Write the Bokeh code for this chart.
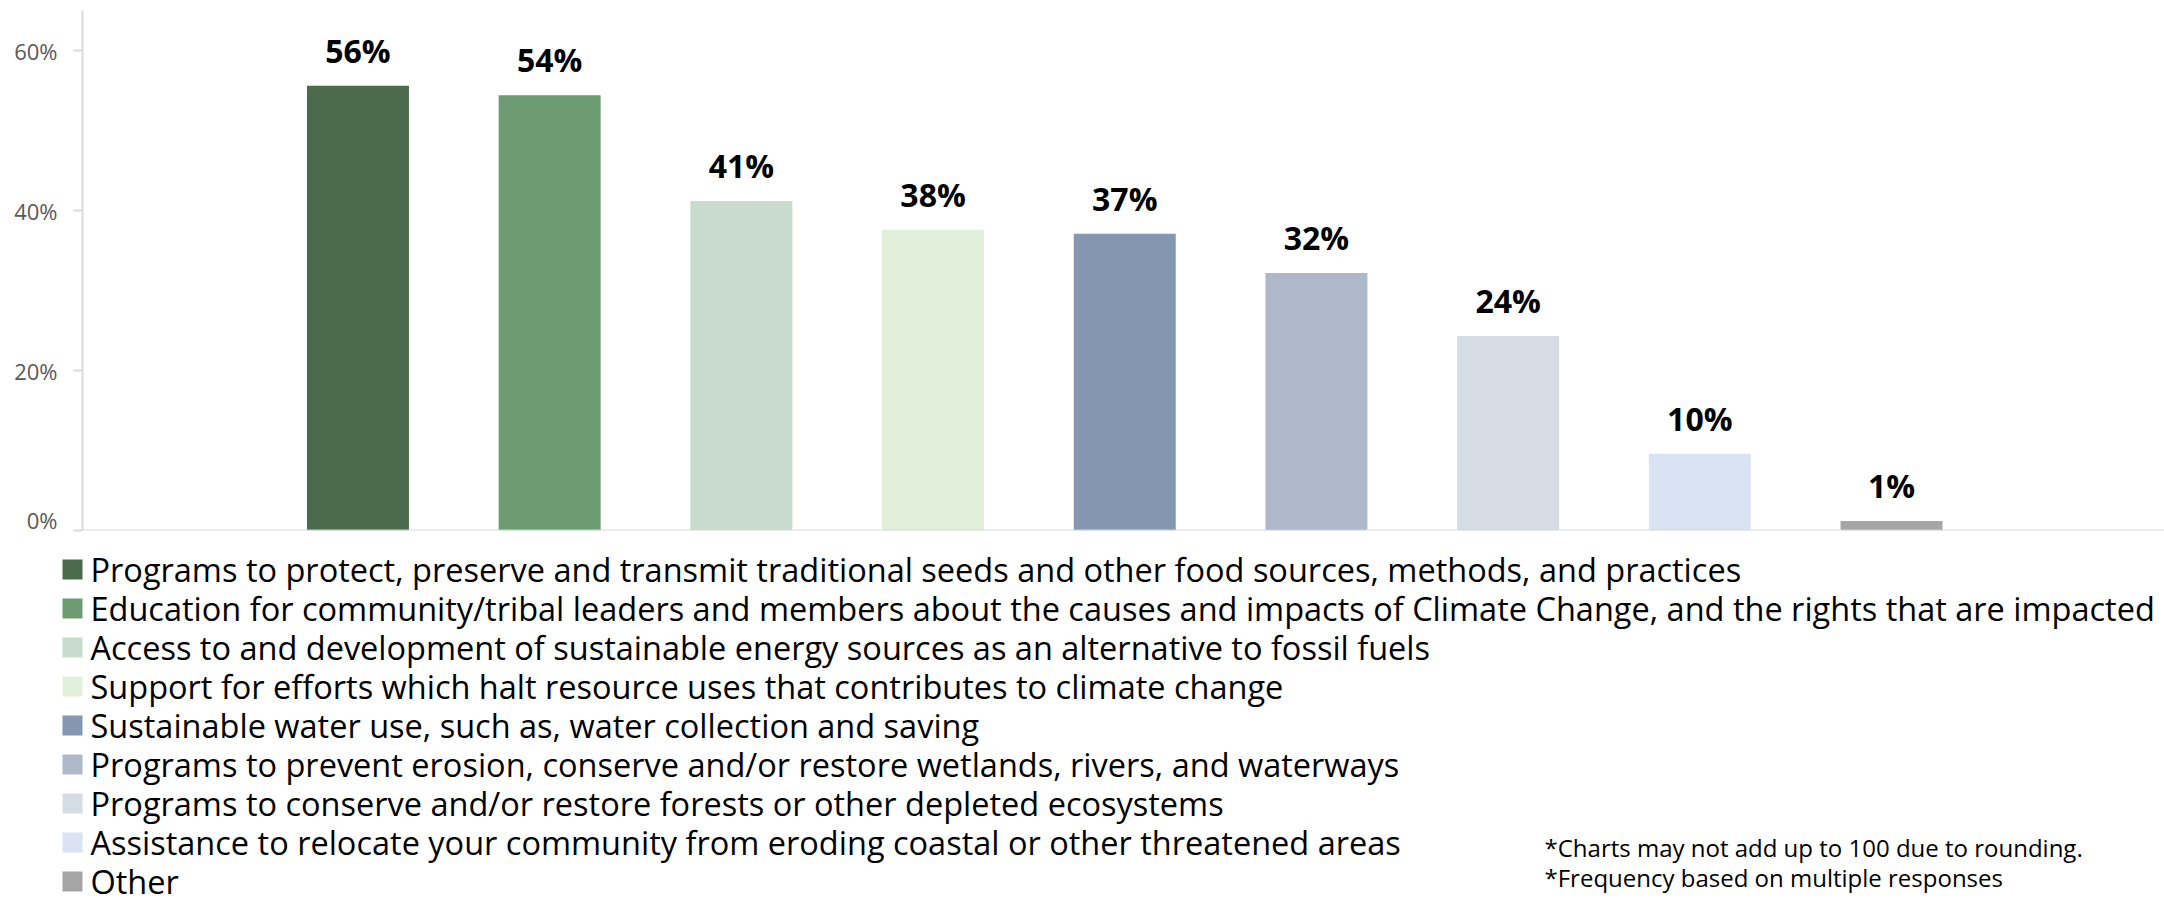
import numpy as np
from bokeh.plotting import figure
from bokeh.layouts import column
from bokeh.models import (ColumnDataSource, Range1d, Span, LabelSet,
                          NumeralTickFormatter, FixedTicker)
from bokeh.core.properties import value
from bokeh.embed import file_html
from bokeh.resources import INLINE

categories = [
    "Programs to protect, preserve and transmit traditional seeds and other food sources, methods, and practices",
    "Education for community/tribal leaders and members about the causes and impacts of Climate Change, and the rights that are impacted",
    "Access to and development of sustainable energy sources as an alternative to fossil fuels",
    "Support for efforts which halt resource uses that contributes to climate change",
    "Sustainable water use, such as, water collection and saving",
    "Programs to prevent erosion, conserve and/or restore wetlands, rivers, and waterways",
    "Programs to conserve and/or restore forests or other depleted ecosystems",
    "Assistance to relocate your community from eroding coastal or other threatened areas",
    "Other",
]
values = [0.556, 0.544, 0.412, 0.376, 0.371, 0.322, 0.243, 0.096, 0.012]
colors = ["#4A6A4B", "#6E9C72", "#C8DBCC", "#E2EFDA", "#8497B0",
          "#ADB9CA", "#D6DCE4", "#DAE3F3", "#A5A5A5"]
y_ticks = [0.0, 0.2, 0.4, 0.6]
notes = ["*Charts may not add up to 100 due to rounding.",
         "*Frequency based on multiple responses"]

FONT = "Open Sans"
W = 2164
H_TOP = 534
H_BOT = 904 - H_TOP

n = len(values)
src = ColumnDataSource(dict(
    x=np.arange(1, n + 1),
    top=values,
    color=colors,
    label=[f"{v * 100:.0f}%" for v in values],
))

# ---------------- chart ----------------
p = figure(width=W, height=H_TOP, output_backend="svg", toolbar_location=None,
           x_range=Range1d(-0.437, 10.424), y_range=Range1d(0, 0.65),
           x_axis_location=None, min_border_left=82, min_border_right=0,
           min_border_top=10, min_border_bottom=4)
p.frame_align = False
p.outline_line_color = None
p.grid.visible = False

r = p.vbar(x="x", top="top", bottom=0, width=0.532, fill_color="color",
           line_color=None, source=src)

p.add_layout(Span(location=0, dimension="width", line_color="#D9D9D9", line_width=2))

ya = p.yaxis[0]
ya.ticker = FixedTicker(ticks=y_ticks)
ya.formatter = NumeralTickFormatter(format="0%")
ya.axis_line_color = "#D9D9D9"
ya.axis_line_width = 2
ya.major_tick_line_color = "#D9D9D9"
ya.major_tick_line_width = 2
ya.major_tick_out = 9
ya.major_tick_in = 0
ya.minor_tick_line_color = None
ya.major_label_text_font = FONT
ya.major_label_text_font_size = "22px"
ya.major_label_text_color = "#595959"
ya.major_label_standoff = 16

labels = LabelSet(x="x", y="top", text="label", source=src, y_offset=23,
                  text_align="center", text_baseline="alphabetic",
                  text_font=value(FONT), text_font_size="32px",
                  text_font_style="bold", text_color="black")
p.add_layout(labels)

# ---------------- legend + notes ----------------
q = figure(width=W, height=H_BOT, output_backend="svg", toolbar_location=None,
           x_range=Range1d(0, W), y_range=Range1d(H_BOT, 0),
           x_axis_location=None, y_axis_location=None, min_border=0)
q.frame_align = False
q.outline_line_color = None
q.grid.visible = False

row_pitch = 39
row0 = 35
leg = ColumnDataSource(dict(
    y=row0 + row_pitch * np.arange(n),
    color=colors,
    name=categories,
))
q.rect(x=72, y="y", width=20, height=20, fill_color="color", line_color=None, source=leg)
q.text(x=90, y="y", text="name", source=leg, text_font=value(FONT),
       text_font_size="32.5px", text_color="black", text_baseline="middle",
       text_align="left")

note_src = ColumnDataSource(dict(y=313 + 30 * np.arange(len(notes)), text=notes))
q.text(x=1544, y="y", text="text", source=note_src, text_font=value(FONT),
       text_font_size="24px", text_color="black", text_baseline="middle",
       text_align="left")

layout = column(p, q, spacing=0)
open("out.html", "w").write(file_html(layout, INLINE))
